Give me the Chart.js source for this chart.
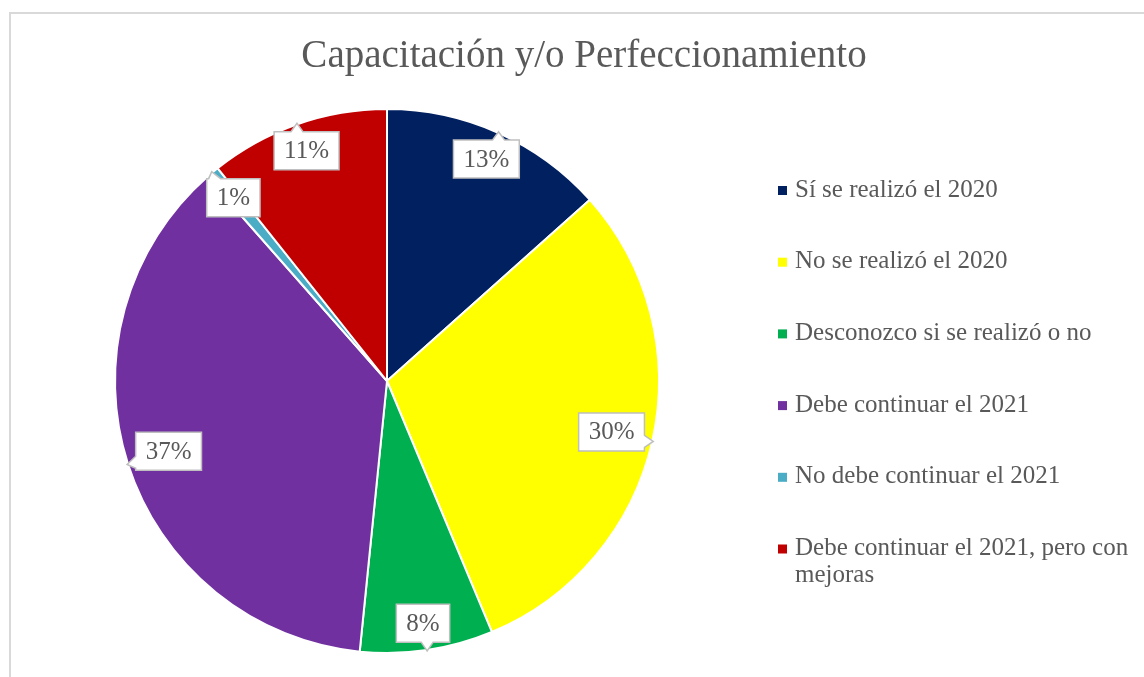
<!DOCTYPE html>
<html>
<head>
<meta charset="utf-8">
<script src="https://cdn.jsdelivr.net/npm/chart.js@4/dist/chart.umd.min.js"></script>
<style>
  html, body { margin: 0; padding: 0; background: #fff; }
  #wrap { width: 1144px; height: 677px; }
</style>
</head>
<body>
<div id="wrap"><canvas id="grafico" width="1144" height="677"></canvas></div>
<script>
// datos
const titulo = 'Capacitación y/o Perfeccionamiento';
const categorias = [
  'Sí se realizó el 2020',
  'No se realizó el 2020',
  'Desconozco si se realizó o no',
  'Debe continuar el 2021',
  'No debe continuar el 2021',
  'Debe continuar el 2021, pero con mejoras'
];
const porcentajes = [13.4, 30.3, 7.9, 36.9, 0.8, 10.7];
const colores = ['#002060', '#FFFF00', '#00B050', '#7030A0', '#4BACC6', '#C00000'];

const FUENTE = '"Liberation Serif", "DejaVu Serif", serif';
const GRIS = '#595959';

// marco gris del area del grafico
const marco = {
  id: 'marco',
  beforeDraw(chart) {
    const ctx = chart.ctx;
    ctx.save();
    ctx.strokeStyle = '#d9d9d9';
    ctx.lineWidth = 2;
    ctx.beginPath();
    ctx.moveTo(10, 700);
    ctx.lineTo(10, 13);
    ctx.lineTo(1160, 13);
    ctx.stroke();
    ctx.restore();
  }
};

// etiquetas tipo "llamada" con el porcentaje
const etiquetas = {
  id: 'etiquetas',
  afterDatasetsDraw(chart) {
    const ctx = chart.ctx;
    const meta = chart.getDatasetMeta(0);
    ctx.save();
    ctx.font = '25px ' + FUENTE;
    meta.data.forEach((arc, i) => {
      const p = arc.getProps(['x', 'y', 'startAngle', 'endAngle', 'outerRadius'], true);
      const a = (p.startAngle + p.endAngle) / 2;
      const ux = Math.cos(a), uy = Math.sin(a);
      const txt = Math.round(porcentajes[i]) + '%';
      const w = ctx.measureText(txt).width + 20, h = 38;
      const hw = w / 2, hh = h / 2;
      const tx = Math.abs(ux) > 1e-6 ? hw / Math.abs(ux) : 1e9;
      const ty = Math.abs(uy) > 1e-6 ? hh / Math.abs(uy) : 1e9;
      const t = Math.min(tx, ty);
      const d = p.outerRadius - 8 - t;
      const cx = p.x + ux * d, cy = p.y + uy * d;
      const px = p.x + ux * (p.outerRadius + 1), py = p.y + uy * (p.outerRadius + 1);
      const l = cx - hw, r = cx + hw, tp = cy - hh, b = cy + hh;
      let lado;
      if (ty < tx) lado = uy < 0 ? 'top' : 'bottom';
      else lado = ux < 0 ? 'left' : 'right';
      const n = 6;
      const bx = Math.min(Math.max(px, l + n + 2), r - n - 2);
      const by = Math.min(Math.max(py, tp + n + 2), b - n - 2);

      ctx.beginPath();
      ctx.moveTo(l, tp);
      if (lado === 'top') { ctx.lineTo(bx - n, tp); ctx.lineTo(px, py); ctx.lineTo(bx + n, tp); }
      ctx.lineTo(r, tp);
      if (lado === 'right') { ctx.lineTo(r, by - n); ctx.lineTo(px, py); ctx.lineTo(r, by + n); }
      ctx.lineTo(r, b);
      if (lado === 'bottom') { ctx.lineTo(bx + n, b); ctx.lineTo(px, py); ctx.lineTo(bx - n, b); }
      ctx.lineTo(l, b);
      if (lado === 'left') { ctx.lineTo(l, by + n); ctx.lineTo(px, py); ctx.lineTo(l, by - n); }
      ctx.closePath();
      ctx.fillStyle = '#fff';
      ctx.fill();
      ctx.strokeStyle = '#bfbfbf';
      ctx.lineWidth = 1.5;
      ctx.stroke();

      ctx.fillStyle = GRIS;
      ctx.textAlign = 'center';
      ctx.textBaseline = 'middle';
      ctx.fillText(txt, cx, cy + 1);
    });
    ctx.restore();
  }
};

// titulo y leyenda a la derecha
const titulos = {
  id: 'titulos',
  afterDraw(chart) {
    const ctx = chart.ctx;
    ctx.save();
    ctx.fillStyle = GRIS;
    ctx.font = '39px ' + FUENTE;
    ctx.textAlign = 'center';
    ctx.textBaseline = 'alphabetic';
    ctx.fillText(titulo, 584, 67);

    ctx.font = '25px ' + FUENTE;
    ctx.textAlign = 'left';
    ctx.textBaseline = 'middle';
    const x0 = 795, maxW = 345;
    chart.data.labels.forEach((lab, i) => {
      const yc = 190 + i * 71.7;
      ctx.fillStyle = colores[i];
      ctx.fillRect(778, yc - 4, 9, 9);
      const palabras = lab.split(' ');
      const lineas = [];
      let actual = '';
      palabras.forEach(pw => {
        const prueba = actual ? actual + ' ' + pw : pw;
        if (ctx.measureText(prueba).width > maxW && actual) { lineas.push(actual); actual = pw; }
        else actual = prueba;
      });
      lineas.push(actual);
      ctx.fillStyle = GRIS;
      lineas.forEach((ln, k) => ctx.fillText(ln, x0, yc + k * 27));
    });
    ctx.restore();
  }
};

new Chart(document.getElementById('grafico'), {
  type: 'pie',
  data: {
    labels: categorias,
    datasets: [{
      data: porcentajes,
      backgroundColor: colores,
      borderColor: '#ffffff',
      borderWidth: 2
    }]
  },
  options: {
    responsive: false,
    animation: false,
    layout: { padding: { left: 114, right: 484, top: 108, bottom: 23 } },
    plugins: {
      legend: { display: false },
      tooltip: { enabled: false },
      title: { display: false }
    }
  },
  plugins: [marco, etiquetas, titulos]
});
</script>
</body>
</html>
